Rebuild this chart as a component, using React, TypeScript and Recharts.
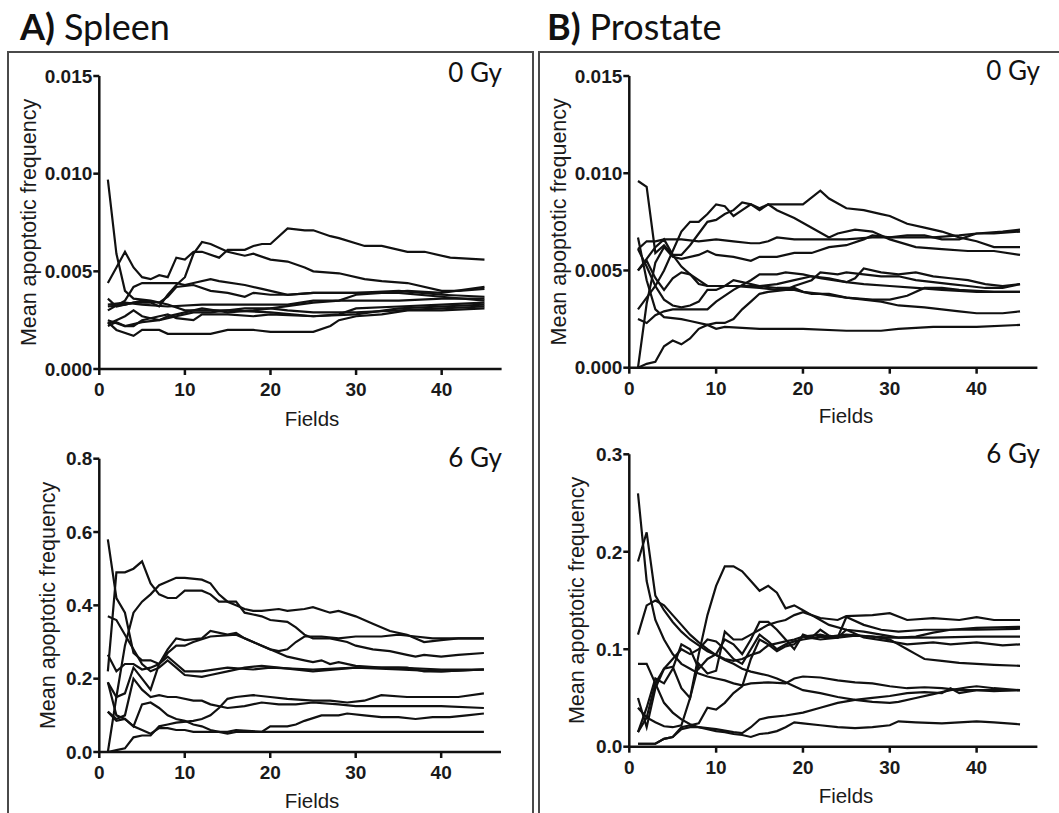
import React from 'react';
import { LineChart, Line, XAxis, YAxis } from 'recharts';

type P = [number, number];

// ---------- A) Spleen, 0 Gy ----------
const spleen0_1: P[] = [[1,.0097],[2,.0059],[3,.0040],[4,.0036],[6,.0035],[8,.0033],[10,.0030],[15,.0030],[20,.0029],[25,.0027],[30,.0028],[35,.0031],[40,.0032],[45,.0033]];
const spleen0_2: P[] = [[1,.0044],[2,.0052],[3,.0060],[4,.0052],[5,.0047],[6,.0046],[7,.0048],[8,.0047],[9,.0057],[10,.0056],[11,.0060],[12,.0060],[14,.0057],[15,.0061],[17,.0061],[18,.0063],[19,.0064],[20,.0064],[22,.0072],[24,.0071],[25,.0071],[27,.0068],[28,.0067],[31,.0063],[33,.0063],[36,.0060],[38,.0060],[41,.0057],[45,.0056]];
const spleen0_3: P[] = [[1,.0036],[2,.0032],[4,.0034],[6,.0034],[7,.0032],[8,.0038],[9,.0043],[10,.0047],[11,.0059],[12,.0065],[13,.0064],[15,.0060],[17,.0058],[18,.0059],[20,.0056],[22,.0055],[24,.0052],[25,.0050],[28,.0049],[31,.0046],[33,.0045],[36,.0044],[40,.0040],[42,.0040],[45,.0041]];
const spleen0_4: P[] = [[1,.0030],[3,.0035],[4,.0042],[5,.0044],[7,.0044],[9,.0044],[10,.0043],[11,.0044],[13,.0046],[14,.0045],[17,.0043],[19,.0041],[22,.0038],[25,.0039],[30,.0039],[35,.0040],[40,.0038],[45,.0037]];
const spleen0_5: P[] = [[1,.0024],[2,.0020],[4,.0017],[5,.0020],[7,.0020],[8,.0018],[13,.0018],[15,.0020],[18,.0020],[20,.0019],[25,.0019],[27,.0022],[28,.0025],[30,.0027],[33,.0028],[36,.0030],[40,.0030],[45,.0031]];
const spleen0_6: P[] = [[1,.0023],[2,.0025],[3,.0027],[4,.0030],[5,.0027],[6,.0026],[7,.0025],[8,.0027],[9,.0028],[10,.0029],[12,.0031],[15,.0029],[18,.0030],[20,.0031],[25,.0034],[28,.0035],[30,.0038],[33,.0039],[36,.0040],[40,.0039],[45,.0042]];
const spleen0_7: P[] = [[1,.0025],[3,.0022],[4,.0022],[5,.0025],[7,.0027],[8,.0028],[9,.0026],[11,.0025],[12,.0028],[15,.0028],[18,.0027],[20,.0028],[25,.0027],[28,.0028],[30,.0031],[35,.0032],[40,.0033],[45,.0034]];
const spleen0_8: P[] = [[1,.0022],[2,.0024],[3,.0022],[5,.0024],[7,.0025],[9,.0027],[11,.0029],[13,.0029],[15,.0030],[17,.0031],[20,.0031],[22,.0030],[25,.0029],[30,.0029],[35,.0030],[40,.0031],[45,.0032]];
const spleen0_9: P[] = [[1,.0033],[3,.0034],[5,.0033],[8,.0032],[12,.0033],[16,.0033],[20,.0033],[22,.0033],[25,.0035],[30,.0035],[35,.0035],[40,.0036],[45,.0036]];
const spleen0_10: P[] = [[1,.0032],[3,.0033],[5,.0035],[7,.0034],[8,.0037],[9,.0042],[11,.0043],[13,.0040],[15,.0039],[17,.0037],[18,.0039],[20,.0038],[22,.0038],[25,.0039],[30,.0039],[35,.0039],[40,.0037],[45,.0035]];

// ---------- A) Spleen, 6 Gy ----------
const spleen6_1: P[] = [[1,.58],[2,.42],[3,.38],[4,.27],[5,.25],[6,.25],[7,.24],[8,.26],[9,.24],[10,.22],[12,.22],[15,.23],[18,.225],[20,.23],[25,.225],[30,.23],[35,.225],[40,.22],[45,.225]];
const spleen6_2: P[] = [[1,.37],[2,.36],[3,.32],[4,.28],[5,.24],[6,.22],[7,.23],[8,.25],[9,.23],[10,.21],[12,.205],[13,.21],[15,.22],[17,.23],[19,.235],[21,.23],[25,.22],[30,.23],[35,.23],[40,.225],[45,.225]];
const spleen6_3: P[] = [[1,.22],[2,.49],[3,.49],[4,.50],[5,.52],[6,.46],[7,.43],[8,.42],[9,.42],[10,.44],[12,.44],[13,.43],[14,.41],[16,.41],[17,.38],[18,.375],[19,.37],[20,.36],[22,.355],[23,.34],[24,.32],[25,.31],[27,.31],[29,.30],[30,.29],[32,.28],[34,.275],[36,.265],[37,.26],[38,.265],[40,.26],[42,.265],[45,.27]];
const spleen6_4: P[] = [[1,0],[2,.15],[3,.29],[4,.38],[5,.41],[6,.43],[7,.455],[8,.465],[9,.475],[10,.475],[12,.47],[13,.46],[14,.43],[15,.41],[16,.40],[17,.39],[18,.385],[19,.385],[21,.39],[22,.385],[24,.39],[25,.395],[27,.38],[28,.385],[30,.37],[32,.35],[34,.33],[36,.32],[38,.30],[40,.305],[42,.31],[45,.31]];
const spleen6_5: P[] = [[1,.265],[2,.22],[3,.24],[4,.24],[5,.225],[6,.23],[7,.24],[8,.28],[9,.31],[10,.305],[12,.31],[13,.33],[15,.32],[16,.325],[17,.31],[18,.30],[19,.29],[21,.27],[22,.26],[24,.25],[25,.245],[26,.25],[27,.24],[28,.245],[30,.235],[33,.23],[36,.23],[38,.22],[40,.22],[45,.225]];
const spleen6_6: P[] = [[1,.19],[2,.15],[3,.16],[4,.23],[5,.20],[6,.17],[7,.24],[8,.27],[9,.29],[10,.29],[11,.30],[13,.315],[16,.32],[18,.30],[20,.28],[21,.275],[22,.28],[23,.30],[24,.315],[26,.315],[28,.31],[30,.315],[33,.315],[35,.32],[37,.315],[39,.31],[42,.31],[45,.31]];
const spleen6_7: P[] = [[1,.19],[2,.10],[3,.09],[4,.07],[5,.13],[6,.135],[7,.12],[8,.10],[9,.09],[10,.085],[11,.075],[12,.07],[13,.06],[14,.055],[15,.05],[16,.055],[20,.055],[25,.055],[30,.055],[35,.055],[40,.055],[45,.055]];
const spleen6_8: P[] = [[1,.11],[2,.09],[3,.10],[4,.20],[5,.17],[6,.15],[7,.155],[8,.15],[9,.15],[11,.14],[12,.14],[13,.13],[15,.12],[17,.125],[19,.135],[21,.13],[23,.13],[25,.135],[28,.13],[30,.125],[33,.125],[36,.125],[40,.125],[45,.12]];
const spleen6_9: P[] = [[1,.11],[2,.085],[3,.09],[4,.07],[5,.06],[6,.05],[7,.065],[8,.065],[9,.06],[10,.06],[11,.055],[15,.055],[16,.06],[19,.055],[20,.07],[22,.07],[23,.075],[24,.085],[26,.10],[28,.10],[29,.105],[31,.10],[33,.095],[35,.095],[37,.09],[39,.095],[41,.095],[43,.10],[45,.105]];
const spleen6_10: P[] = [[1,0],[2,.005],[3,.01],[4,.04],[5,.045],[6,.045],[7,.07],[8,.075],[9,.08],[11,.085],[12,.09],[13,.10],[14,.12],[15,.145],[16,.15],[18,.155],[20,.15],[22,.145],[25,.14],[27,.14],[29,.135],[31,.14],[33,.155],[36,.15],[40,.15],[42,.15],[45,.16]];

// ---------- B) Prostate, 0 Gy ----------
const prostate0_1: P[] = [[1,.0096],[2,.0093],[3,.0059],[4,.0063],[5,.0058],[6,.0058],[7,.0063],[8,.0069],[9,.0075],[10,.0076],[11,.0079],[12,.0081],[13,.0085],[14,.0084],[15,.0081],[16,.0084],[18,.0084],[20,.0084],[22,.0091],[23,.0087],[25,.0082],[27,.0081],[29,.0079],[30,.0078],[32,.0074],[34,.0072],[36,.0070],[38,.0067],[40,.0065],[42,.0062],[45,.0062]];
const prostate0_2: P[] = [[1,.0067],[2,.0045],[3,.0030],[4,.0026],[6,.0025],[7,.0024],[9,.0022],[10,.0020],[11,.0021],[15,.0020],[20,.0020],[25,.0019],[29,.0019],[31,.0020],[35,.0021],[40,.0021],[45,.0022]];
const prostate0_3: P[] = [[1,.0061],[2,.0065],[3,.0065],[4,.0066],[6,.0066],[8,.0065],[10,.0066],[12,.0065],[14,.0064],[15,.0064],[16,.0065],[17,.0067],[19,.0066],[21,.0066],[25,.0066],[28,.0067],[30,.0067],[35,.0067],[38,.0068],[40,.0069],[42,.0069],[45,.0070]];
const prostate0_4: P[] = [[1,.0050],[2,.0055],[3,.0046],[4,.0040],[5,.0046],[6,.0049],[7,.0048],[8,.0045],[9,.0042],[11,.0042],[13,.0042],[15,.0042],[17,.0043],[19,.0045],[21,.0047],[23,.0046],[25,.0044],[26,.0046],[27,.0051],[29,.0049],[31,.0048],[33,.0049],[35,.0047],[37,.0046],[39,.0045],[41,.0043],[43,.0042],[45,.0043]];
const prostate0_5: P[] = [[1,.0050],[2,.0056],[3,.0062],[4,.0066],[5,.0058],[6,.0052],[7,.0048],[8,.0043],[9,.0042],[12,.0042],[15,.0041],[17,.0040],[19,.0040],[21,.0038],[23,.0038],[25,.0036],[27,.0035],[29,.0034],[31,.0032],[34,.0031],[36,.0030],[38,.0029],[40,.0028],[43,.0028],[45,.0029]];
const prostate0_6: P[] = [[1,.0030],[2,.0036],[3,.0042],[4,.0050],[5,.0060],[6,.0070],[7,.0075],[8,.0075],[9,.0079],[10,.0084],[11,.0083],[12,.0078],[13,.0081],[14,.0084],[15,.0082],[16,.0084],[17,.0081],[19,.0077],[21,.0072],[23,.0067],[24,.0069],[26,.0071],[28,.0070],[30,.0066],[33,.0062],[36,.0061],[39,.0060],[42,.0060],[45,.0058]];
const prostate0_7: P[] = [[1,.0025],[2,.0023],[3,.0027],[4,.0029],[5,.0030],[7,.0030],[9,.0030],[10,.0034],[12,.0040],[14,.0045],[15,.0048],[17,.0048],[18,.0049],[20,.0048],[22,.0046],[25,.0044],[27,.0043],[30,.0042],[33,.0041],[36,.0040],[40,.0039],[45,.0039]];
const prostate0_8: P[] = [[1,0],[2,.0002],[3,.0003],[4,.0011],[5,.0014],[6,.0012],[7,.0015],[8,.0020],[9,.0022],[10,.0023],[11,.0023],[12,.0025],[13,.0030],[14,.0034],[15,.0038],[16,.0039],[18,.0040],[19,.0042],[21,.0045],[22,.0049],[24,.0048],[25,.0049],[27,.0048],[29,.0047],[31,.0047],[33,.0045],[35,.0044],[37,.0043],[39,.0042],[41,.0041],[43,.0041],[45,.0043]];
const prostate0_9: P[] = [[1,0],[2,.0033],[3,.0054],[4,.0062],[5,.0057],[6,.0056],[8,.0058],[9,.0060],[10,.0058],[12,.0057],[14,.0055],[15,.0057],[17,.0057],[19,.0059],[21,.0059],[23,.0062],[25,.0063],[27,.0066],[28,.0068],[30,.0067],[32,.0068],[34,.0068],[36,.0066],[38,.0066],[40,.0069],[43,.0070],[45,.0071]];
const prostate0_10: P[] = [[1,.0061],[2,.0052],[3,.0042],[4,.0035],[5,.0032],[6,.0031],[7,.0032],[8,.0034],[9,.0040],[10,.0040],[11,.0042],[12,.0045],[13,.0044],[15,.0042],[17,.0041],[19,.0041],[20,.0039],[22,.0038],[25,.0036],[28,.0035],[30,.0035],[32,.0037],[34,.0041],[36,.0041],[38,.0040],[42,.0039],[45,.0039]];

// ---------- B) Prostate, 6 Gy ----------
const prostate6_1: P[] = [[1,.26],[2,.17],[3,.13],[4,.11],[5,.095],[6,.085],[7,.08],[8,.075],[9,.072],[10,.07],[11,.068],[12,.065],[13,.063],[14,.065],[16,.066],[18,.065],[19,.07],[20,.072],[22,.071],[24,.068],[26,.066],[28,.065],[30,.062],[32,.06],[34,.061],[36,.06],[38,.058],[40,.058],[42,.057],[45,.058]];
const prostate6_2: P[] = [[1,.19],[2,.22],[3,.155],[4,.14],[5,.128],[6,.118],[7,.11],[8,.104],[9,.098],[10,.094],[11,.09],[12,.088],[13,.09],[14,.094],[15,.097],[16,.104],[17,.106],[18,.108],[19,.11],[20,.113],[22,.11],[24,.112],[26,.114],[28,.113],[30,.112],[35,.112],[40,.113],[45,.113]];
const prostate6_3: P[] = [[1,.115],[2,.145],[3,.15],[4,.145],[5,.135],[6,.125],[7,.115],[8,.107],[9,.10],[10,.094],[11,.089],[12,.085],[13,.08],[14,.077],[15,.075],[16,.073],[17,.07],[18,.066],[19,.062],[20,.058],[22,.055],[24,.051],[26,.048],[28,.046],[30,.045],[31,.046],[33,.05],[35,.054],[37,.058],[39,.061],[40,.062],[42,.06],[45,.058]];
const prostate6_4: P[] = [[1,.085],[2,.085],[3,.065],[4,.045],[5,.035],[6,.028],[7,.023],[8,.02],[9,.018],[10,.016],[11,.015],[12,.013],[13,.012],[14,.01],[15,.013],[16,.014],[17,.016],[18,.02],[19,.025],[20,.024],[22,.022],[24,.02],[26,.019],[28,.02],[30,.022],[31,.026],[33,.025],[36,.024],[38,.025],[40,.026],[42,.025],[45,.023]];
const prostate6_5: P[] = [[1,.04],[2,.03],[3,.025],[4,.021],[5,.02],[6,.022],[7,.05],[8,.095],[9,.135],[10,.165],[11,.185],[12,.185],[13,.18],[14,.17],[15,.16],[16,.165],[17,.158],[18,.142],[19,.145],[20,.14],[21,.135],[22,.13],[23,.125],[25,.12],[27,.118],[29,.115],[31,.112],[33,.113],[35,.117],[37,.12],[40,.12],[45,.121]];
const prostate6_6: P[] = [[1,.015],[2,.04],[3,.07],[4,.065],[5,.08],[6,.105],[7,.10],[8,.08],[9,.09],[10,.095],[11,.11],[12,.105],[13,.095],[14,.11],[15,.128],[16,.128],[17,.12],[18,.11],[19,.10],[20,.115],[21,.112],[22,.12],[23,.114],[24,.112],[25,.133],[27,.125],[29,.12],[31,.118],[34,.12],[37,.12],[40,.122],[45,.123]];
const prostate6_7: P[] = [[1,.05],[2,.02],[3,.06],[4,.08],[5,.082],[6,.06],[7,.05],[8,.085],[9,.075],[10,.078],[11,.118],[12,.11],[13,.11],[14,.115],[15,.12],[16,.125],[17,.128],[18,.13],[19,.135],[20,.138],[21,.135],[22,.132],[24,.13],[25,.134],[28,.135],[30,.137],[32,.13],[35,.132],[38,.13],[40,.133],[42,.13],[45,.13]];
const prostate6_8: P[] = [[1,.015],[2,.03],[3,.065],[4,.08],[5,.09],[6,.10],[7,.095],[8,.10],[9,.11],[10,.108],[11,.10],[12,.09],[13,.085],[14,.10],[15,.115],[16,.108],[17,.10],[18,.105],[19,.108],[20,.11],[22,.113],[24,.112],[25,.12],[27,.112],[30,.108],[32,.105],[35,.107],[37,.105],[40,.107],[43,.104],[45,.105]];
const prostate6_9: P[] = [[1,.003],[2,.003],[3,.003],[4,.008],[5,.01],[6,.02],[7,.022],[8,.024],[9,.04],[10,.038],[11,.045],[12,.055],[13,.062],[14,.09],[15,.11],[16,.105],[17,.098],[18,.103],[19,.105],[20,.113],[22,.115],[23,.113],[25,.115],[28,.113],[30,.11],[31,.105],[32,.10],[33,.095],[34,.09],[36,.088],[38,.086],[40,.085],[42,.084],[45,.083]];
const prostate6_10: P[] = [[1,.003],[3,.003],[4,.008],[5,.01],[6,.018],[7,.02],[8,.02],[10,.018],[12,.015],[13,.014],[14,.02],[15,.028],[16,.03],[18,.032],[20,.035],[22,.04],[24,.045],[26,.048],[28,.05],[30,.052],[32,.055],[34,.056],[36,.055],[37,.06],[38,.055],[40,.058],[45,.058]];

const spleen0 = [spleen0_1, spleen0_2, spleen0_3, spleen0_4, spleen0_5, spleen0_6, spleen0_7, spleen0_8, spleen0_9, spleen0_10];
const spleen6 = [spleen6_1, spleen6_2, spleen6_3, spleen6_4, spleen6_5, spleen6_6, spleen6_7, spleen6_8, spleen6_9, spleen6_10];
const prostate0 = [prostate0_1, prostate0_2, prostate0_3, prostate0_4, prostate0_5, prostate0_6, prostate0_7, prostate0_8, prostate0_9, prostate0_10];
const prostate6 = [prostate6_1, prostate6_2, prostate6_3, prostate6_4, prostate6_5, prostate6_6, prostate6_7, prostate6_8, prostate6_9, prostate6_10];

const xTicks = [0, 10, 20, 30, 40];
const yTicks0Gy = [0, 0.005, 0.01, 0.015];
const yTicksSpleen6 = [0, 0.2, 0.4, 0.6, 0.8];
const yTicksProstate6 = [0, 0.1, 0.2, 0.3];

const xAxisTitle = 'Fields';
const yAxisTitle = 'Mean apoptotic frequency';

const AXIS_FONT = 'Liberation Sans, Arial, Helvetica, sans-serif';
const TITLE_FONT = 'Lato, Open Sans, sans-serif';

type PanelProps = {
  left: number; top: number;
  plotLeft: number; plotTop: number; plotRight: number; plotBottom: number;
  yDomain: [number, number]; yTicks: number[]; yDigits: number;
  series: P[][];
  fieldsX: number; fieldsBaseline: number; yLabelX: number;
};

function Panel(p: PanelProps) {
  const marginRight = 20;
  const width = p.plotRight + marginRight - p.left;
  const height = p.fieldsBaseline + 10 - p.top;
  const marginTop = p.plotTop - p.top;
  const yAxisWidth = p.plotLeft - p.left;
  const xAxisHeight = height - marginTop - (p.plotBottom - p.plotTop);
  const lx = p.yLabelX - p.left;
  const ly = (p.plotTop + p.plotBottom) / 2 - p.top;
  return (
    <div style={{ position: 'absolute', left: p.left, top: p.top, width, height }}>
      <LineChart width={width} height={height} margin={{ top: marginTop, right: marginRight, bottom: 0, left: 0 }}>
        <XAxis
          type="number" dataKey="x" domain={[0, 47]} ticks={xTicks} interval={0} allowDataOverflow
          height={xAxisHeight}
          axisLine={{ stroke: '#111', strokeWidth: 2.5 }}
          tickLine={{ stroke: '#111', strokeWidth: 2.5 }}
          tickSize={6} tickMargin={8}
          tick={{ fill: '#1a1a1a', fontSize: 19, fontWeight: 'bold', fontFamily: AXIS_FONT }}
          label={{
            content: () => (
              <text x={p.fieldsX - p.left} y={p.fieldsBaseline - p.top} textAnchor="middle"
                fontSize={20.5} fontFamily={AXIS_FONT} fill="#1a1a1a">{xAxisTitle}</text>
            ),
          }}
        />
        <YAxis
          type="number" domain={p.yDomain} ticks={p.yTicks} interval={0} allowDataOverflow
          width={yAxisWidth}
          tickFormatter={(v: number) => v.toFixed(p.yDigits)}
          axisLine={{ stroke: '#111', strokeWidth: 2.5 }}
          tickLine={{ stroke: '#111', strokeWidth: 2.5 }}
          tickSize={6} tickMargin={1}
          tick={{ fill: '#1a1a1a', fontSize: 19, fontWeight: 'bold', fontFamily: AXIS_FONT }}
          label={{
            content: () => (
              <text x={lx} y={ly} transform={`rotate(-90 ${lx} ${ly})`} textAnchor="middle"
                dominantBaseline="central" fontSize={21.5} fontFamily={AXIS_FONT} fill="#1a1a1a">{yAxisTitle}</text>
            ),
          }}
        />
        {p.series.map((s, i) => (
          <Line key={i} data={s.map(([x, y]) => ({ x, y }))} dataKey="y" type="linear"
            stroke="#111" strokeWidth={2.2} dot={false} isAnimationActive={false} />
        ))}
      </LineChart>
    </div>
  );
}

export default function App() {
  return (
    <div style={{ position: 'absolute', left: 0, top: 0, width: 1059, height: 813, background: '#fff', overflow: 'hidden' }}>
      <div style={{ position: 'absolute', left: 7, top: 51, width: 523, height: 800, border: '2px solid #4a4a4a' }} />
      <div style={{ position: 'absolute', left: 538, top: 51, width: 560, height: 800, border: '2px solid #4a4a4a' }} />

      <Panel left={9} top={53} plotLeft={99.3} plotTop={76} plotRight={501.6} plotBottom={369}
        yDomain={[0, 0.015]} yTicks={yTicks0Gy} yDigits={3} series={spleen0}
        fieldsX={312} fieldsBaseline={426} yLabelX={29.5} />
      <Panel left={9} top={432} plotLeft={99.3} plotTop={458.7} plotRight={501} plotBottom={752}
        yDomain={[0, 0.8]} yTicks={yTicksSpleen6} yDigits={1} series={spleen6}
        fieldsX={312} fieldsBaseline={808} yLabelX={48} />
      <Panel left={540} top={53} plotLeft={629.3} plotTop={76} plotRight={1037.4} plotBottom={367.7}
        yDomain={[0, 0.015]} yTicks={yTicks0Gy} yDigits={3} series={prostate0}
        fieldsX={846} fieldsBaseline={423} yLabelX={559.5} />
      <Panel left={540} top={430} plotLeft={629.3} plotTop={454.3} plotRight={1037.4} plotBottom={746.7}
        yDomain={[0, 0.3]} yTicks={yTicksProstate6} yDigits={1} series={prostate6}
        fieldsX={846} fieldsBaseline={803} yLabelX={577} />

      <svg width={1059} height={813} style={{ position: 'absolute', left: 0, top: 0, pointerEvents: 'none' }}>
        <text x={20} y={40} fontFamily={TITLE_FONT} fontSize={36} fill="#111">
          <tspan fontWeight="bold">A)</tspan><tspan dx={9}>Spleen</tspan>
        </text>
        <text x={547} y={40} fontFamily={TITLE_FONT} fontSize={36} fill="#111">
          <tspan fontWeight="bold">B)</tspan><tspan dx={9}>Prostate</tspan>
        </text>
        <text x={502} y={82} textAnchor="end" fontFamily={TITLE_FONT} fontSize={26} fill="#111">0 Gy</text>
        <text x={1040} y={80} textAnchor="end" fontFamily={TITLE_FONT} fontSize={26} fill="#111">0 Gy</text>
        <text x={502} y={467} textAnchor="end" fontFamily={TITLE_FONT} fontSize={26} fill="#111">6 Gy</text>
        <text x={1040} y={463} textAnchor="end" fontFamily={TITLE_FONT} fontSize={26} fill="#111">6 Gy</text>
      </svg>
    </div>
  );
}
